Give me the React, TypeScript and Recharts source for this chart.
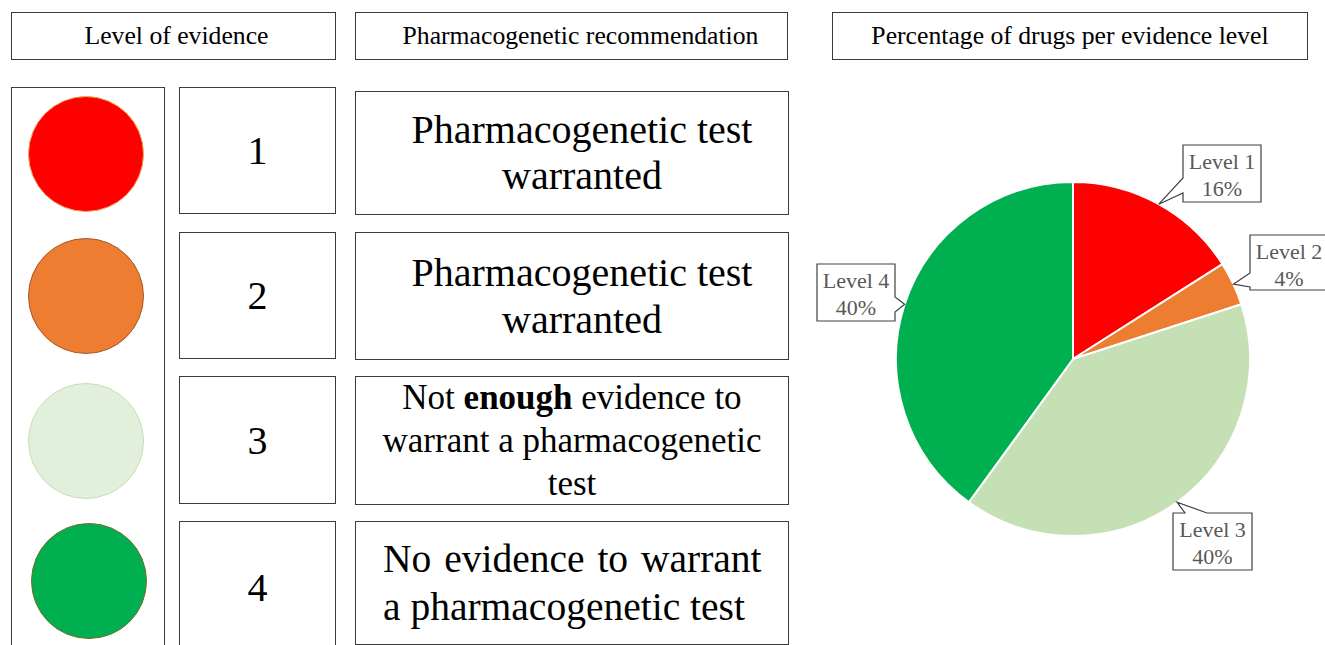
import React from 'react';
import { PieChart, Pie, Cell } from 'recharts';

const levels = ['Level 1', 'Level 2', 'Level 3', 'Level 4'];
const shares = [16, 4, 40, 40];
const levelNumbers = ['1', '2', '3', '4'];
const headers = [
  'Level of evidence',
  'Pharmacogenetic recommendation',
  'Percentage of drugs per evidence level',
];

const SERIF = '"Liberation Serif", "DejaVu Serif", serif';
const PIE_COLORS = ['#FF0000', '#ED7D31', '#C5E0B4', '#00B050'];
const DOT_FILL = ['#FF0000', '#ED7D31', '#E2EFDA', '#00B050'];
const DOT_EDGE = ['#F4A460', '#A5592A', '#C5E0B4', '#7A6A2A'];
const BORDER = '1.5px solid #3a3a3a';

// callout boxes, relative to the pie centre
const CALLOUTS = [
  { dx: 110, dy: -214, w: 78, h: 57, side: 'left', b1: 33, b2: 48, tip: 61 },
  { dx: 177, dy: -124, w: 78, h: 55, side: 'left', b1: 38, b2: 52, tip: 25 },
  { dx: 100, dy: 154, w: 79, h: 57, side: 'top', b1: 12, b2: 34, tip: -54 },
  { dx: -256, dy: -95, w: 78, h: 57, side: 'right', b1: 33, b2: 48, tip: 162 },
];

const rows = [
  { top: 87, recTop: 91, height: 127, dotY: 154, dotX: 86 },
  { top: 232, recTop: 232, height: 127, dotY: 296, dotX: 86 },
  { top: 376, recTop: 376, height: 128, dotY: 441, dotX: 86 },
  { top: 521, recTop: 521, height: 132, dotY: 581, dotX: 89 },
];

function calloutPath(x: number, y: number, w: number, h: number, side: string, b1: number, b2: number, tx: number, ty: number) {
  if (side === 'left') {
    return `M${x},${y} H${x + w} V${y + h} H${x} V${y + b2} L${tx},${ty} L${x},${y + b1} Z`;
  }
  if (side === 'right') {
    return `M${x},${y} H${x + w} V${y + b1} L${tx},${ty} L${x + w},${y + b2} V${y + h} H${x} Z`;
  }
  return `M${x},${y} H${x + b1} L${tx},${ty} L${x + b2},${y} H${x + w} V${y + h} H${x} Z`;
}

const renderCallout = (props: any) => {
  const { cx, cy, outerRadius, index } = props;
  const c = CALLOUTS[index];
  const x = cx + c.dx;
  const y = cy + c.dy;
  const a = (c.tip * Math.PI) / 180;
  const tx = cx + outerRadius * Math.cos(a);
  const ty = cy - outerRadius * Math.sin(a);
  return (
    <g key={`callout-${index}`}>
      <path d={calloutPath(x, y, c.w, c.h, c.side, c.b1, c.b2, tx, ty)} fill="#fff" stroke="#404040" strokeWidth={1.2} />
      <text x={x + c.w / 2} y={y + 16} textAnchor="middle" dominantBaseline="central" fill="#595959" fontSize={22} fontFamily={SERIF}>
        {levels[index]}
      </text>
      <text x={x + c.w / 2} y={y + 43} textAnchor="middle" dominantBaseline="central" fill="#595959" fontSize={22} fontFamily={SERIF}>
        {`${shares[index]}%`}
      </text>
    </g>
  );
};

const box = (left: number, top: number, width: number, height: number): React.CSSProperties => ({
  position: 'absolute',
  left,
  top,
  width,
  height,
  boxSizing: 'border-box',
  border: BORDER,
  display: 'flex',
  alignItems: 'center',
  justifyContent: 'center',
  textAlign: 'center',
  fontFamily: SERIF,
  color: '#000',
  background: '#fff',
});

export default function App() {
  const pieData = levels.map((name, i) => ({ name, value: shares[i] }));
  const headerBoxes = [
    { left: 11, width: 325, pad: 6 },
    { left: 355, width: 433, pad: 18 },
    { left: 832, width: 476, pad: 0 },
  ];

  return (
    <div style={{ position: 'relative', width: 1325, height: 645, overflow: 'hidden', background: '#fff' }}>
      <style>{'body{margin:0}'}</style>

      {headers.map((h, i) => (
        <div
          key={h}
          style={{
            ...box(headerBoxes[i].left, 12, headerBoxes[i].width, 48),
            fontSize: 25.7,
            border: '1.2px solid #3a3a3a',
            paddingLeft: headerBoxes[i].pad,
          }}
        >
          {h}
        </div>
      ))}

      <div style={box(11, 87, 154, 580)} />
      {rows.map((r, i) => (
        <div
          key={`dot-${i}`}
          style={{
            position: 'absolute',
            left: r.dotX - 58,
            top: r.dotY - 58,
            width: 116,
            height: 116,
            boxSizing: 'border-box',
            borderRadius: '50%',
            background: DOT_FILL[i],
            border: `1.2px solid ${DOT_EDGE[i]}`,
          }}
        />
      ))}

      {rows.map((r, i) => (
        <div key={`num-${i}`} style={{ ...box(179, r.top, 157, r.height), fontSize: 40 }}>
          {levelNumbers[i]}
        </div>
      ))}

      <div style={{ ...box(355, rows[0].recTop, 434, 124), fontSize: 40, lineHeight: '46px', paddingLeft: 20 }}>
        <div>Pharmacogenetic test<br />warranted</div>
      </div>
      <div style={{ ...box(355, rows[1].recTop, 434, 128), fontSize: 40, lineHeight: '47px', paddingLeft: 20 }}>
        <div>Pharmacogenetic test<br />warranted</div>
      </div>
      <div style={{ ...box(355, rows[2].recTop, 434, 129), fontSize: 35, lineHeight: '43px' }}>
        <div>
          Not <b>enough</b> evidence to<br />warrant a pharmacogenetic<br />test
        </div>
      </div>
      <div style={{ ...box(355, rows[3].recTop, 434, 124), fontSize: 39.5, lineHeight: '48px', justifyContent: 'flex-start', textAlign: 'left', paddingLeft: 27 }}>
        <div>
          <span style={{ wordSpacing: 3 }}>No evidence to warrant</span>
          <br />a pharmacogenetic test
        </div>
      </div>

      <div style={{ position: 'absolute', left: 0, top: 0 }}>
        <PieChart width={1325} height={645} margin={{ top: 0, right: 0, bottom: 0, left: 0 }}>
          <Pie
            data={pieData}
            dataKey="value"
            nameKey="name"
            cx={1073}
            cy={359}
            outerRadius={177}
            startAngle={90}
            endAngle={-270}
            stroke="#fff"
            strokeWidth={2}
            label={renderCallout}
            labelLine={false}
            isAnimationActive={false}
          >
            {pieData.map((entry, i) => (
              <Cell key={entry.name} fill={PIE_COLORS[i]} />
            ))}
          </Pie>
        </PieChart>
      </div>
    </div>
  );
}
